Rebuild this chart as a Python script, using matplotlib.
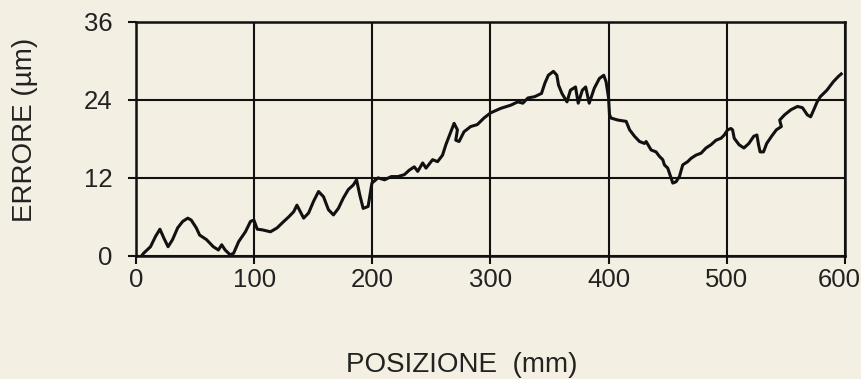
import matplotlib.pyplot as plt
from matplotlib.transforms import ScaledTranslation

# Positioning error (µm) measured along the slide travel (mm)
posizione = [
    5, 6.3, 12.1, 16.4, 20.1, 23.5, 27, 30.8, 35.1, 39.4, 43.7, 46.6, 50.9,
    53.7, 59.5, 65.3, 69.6, 72.4, 75.3, 79.6, 82.5, 86.8, 92.5, 96.8, 99.7,
    102.5, 106.7, 113.7, 119.3, 125, 129.2, 133.4, 136.1, 138.9, 141.8, 146,
    150.2, 154.4, 158.6, 162.8, 167, 171.2, 175.4, 179.6, 183.8, 186.6, 189.3,
    192.2, 196.4, 199.6, 204.8, 210.3, 216, 221.6, 227.1, 231.3, 235.5, 238.4,
    242.6, 245.4, 251, 255.2, 259.4, 262.2, 266.4, 269.2, 272, 270.6, 273.4,
    277.6, 283.2, 288.8, 294.4, 300, 308.6, 317.3, 323.1, 327.4, 331.7, 337.4,
    343.2, 346.1, 349, 353.3, 356.2, 357.6, 360.5, 364.8, 367.7, 372, 374.3,
    377.8, 380.6, 383.6, 387.9, 392.2, 395.9, 397.9, 399.4, 400, 400.8, 402.2,
    407.9, 414.9, 417.8, 422, 426.2, 430.4, 431.8, 436, 440.2, 443.1, 445.9,
    447.3, 450.1, 452.9, 454.4, 457.1, 460, 462.8, 467, 469.8, 474, 478.3,
    482.5, 486.7, 491, 495.2, 498, 500.8, 503.6, 505, 506.4, 510.5, 514.6,
    518.8, 522.9, 525.6, 527, 528.3, 531.2, 533.9, 538, 542.1, 546.3, 544.9,
    549, 554.5, 560, 564.2, 568.3, 571.1, 573.8, 576.6, 579.3, 584.9, 590.3,
    594.5, 597,
]
errore = [
    0.1, 0.4, 1.4, 3.0, 4.1, 2.7, 1.4, 2.5, 4.3, 5.3, 5.8, 5.5, 4.3, 3.2, 2.5,
    1.4, 0.9, 1.7, 0.9, 0.15, 0.4, 2.2, 3.7, 5.3, 5.5, 4.1, 4.0, 3.7, 4.3, 5.3,
    6.0, 6.8, 7.8, 6.8, 5.8, 6.6, 8.4, 9.9, 9.1, 7.1, 6.3, 7.3, 8.9, 10.2,
    10.9, 11.7, 9.4, 7.3, 7.6, 11.2, 12.0, 11.7, 12.2, 12.2, 12.5, 13.2, 13.7,
    13.0, 14.3, 13.5, 14.8, 14.5, 15.5, 17.1, 19.1, 20.4, 19.4, 17.8, 17.6,
    19.1, 19.9, 20.2, 21.2, 22.0, 22.7, 23.2, 23.7, 23.5, 24.3, 24.5, 25.0,
    26.6, 27.8, 28.4, 27.8, 26.3, 25.0, 23.7, 25.5, 26.0, 23.5, 25.5, 26.0,
    23.5, 25.8, 27.3, 27.8, 26.8, 25.0, 24.3, 21.7, 21.2, 20.9, 20.7, 19.4,
    18.4, 17.6, 17.3, 17.6, 16.3, 16.0, 15.3, 14.8, 14.0, 13.5, 12.0, 11.2,
    11.4, 12.2, 14.0, 14.5, 15.0, 15.5, 15.8, 16.6, 17.1, 17.8, 18.1, 18.6,
    19.4, 19.6, 19.4, 18.1, 17.1, 16.6, 17.3, 18.4, 18.6, 17.1, 16.0, 16.0,
    17.3, 18.4, 19.4, 19.9, 20.9, 21.7, 22.5, 23.0, 22.8, 21.7, 21.4, 22.5,
    23.7, 24.5, 25.5, 26.8, 27.6, 28.0,
]

x_ticks = [0, 100, 200, 300, 400, 500, 600]
y_ticks = [0, 12, 24, 36]

paper = '#f3efe2'
ink = '#111111'
lettering = '#222222'
fonts = ['Liberation Sans', 'DejaVu Sans']

fig = plt.figure(figsize=(8.62, 3.79), dpi=100, facecolor=paper)
ax = fig.add_axes([0.158, 0.325, 0.822, 0.617], facecolor=paper)

ax.plot(posizione, errore, color=ink, linewidth=2.2, solid_joinstyle='round')

ax.set_xlim(0, 600)
ax.set_ylim(0, 36)
ax.set_xticks(x_ticks)
ax.set_yticks(y_ticks)
ax.grid(True, color=ink, linewidth=1.5)
for side in ax.spines.values():
    side.set_color(ink)
    side.set_linewidth(1.8)

ax.tick_params(axis='both', direction='out', length=6, width=1.5, color=ink,
               labelsize=18.5, labelcolor=lettering)
ax.tick_params(axis='x', pad=3)
ax.tick_params(axis='y', pad=11)
for lab in ax.get_xticklabels() + ax.get_yticklabels():
    lab.set_family(fonts)

# last x label sits tight against the right edge
last = ax.get_xticklabels()[-1]
last.set_transform(last.get_transform() + ScaledTranslation(-4 / 72, 0, fig.dpi_scale_trans))

ax.set_xlabel('POSIZIONE  (mm)', fontsize=20, color=lettering,
              family=fonts, va='top')
ax.set_ylabel('ERRORE (µm)', fontsize=20, color=lettering, family=fonts)
ax.xaxis.set_label_coords(0.459, -0.41)
ax.yaxis.set_label_coords(-0.138, 0.538)

fig.savefig('out.png', dpi=100, facecolor=paper)
